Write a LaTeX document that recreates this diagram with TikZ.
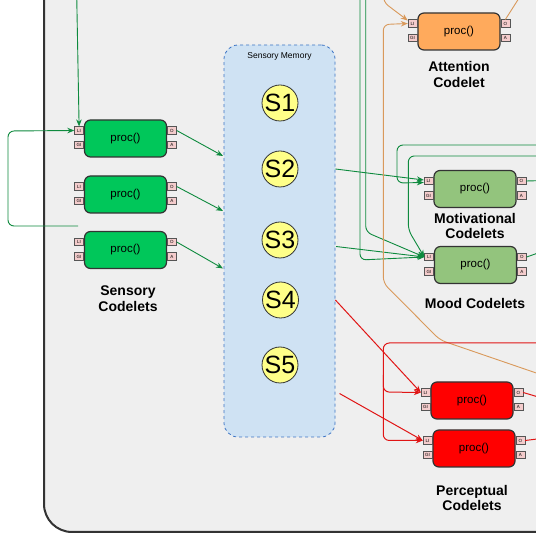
\documentclass[tikz,border=0pt]{standalone}
\usepackage{fontspec}
\setmainfont{Liberation Sans}
\usetikzlibrary{arrows.meta}

\definecolor{panelfill}{HTML}{EFEFEF}
\definecolor{panelline}{HTML}{333333}
\definecolor{sensgreen}{HTML}{00C75A}
\definecolor{linkgreen}{HTML}{0E8A3E}
\definecolor{attorange}{HTML}{FFAA5C}
\definecolor{linkorange}{HTML}{D9995B}
\definecolor{motgreen}{HTML}{93C47D}
\definecolor{percred}{HTML}{FF0000}
\definecolor{linkred}{HTML}{E01515}
\definecolor{memfill}{HTML}{CFE2F3}
\definecolor{memline}{HTML}{3D74C4}
\definecolor{slotfill}{HTML}{FFFF88}
\definecolor{portfill}{HTML}{F4CCCC}
\definecolor{portline}{HTML}{555555}

% a codelet: rounded body with LI/GI ports on the left and O/A ports on the right
\newcommand\codelet[4]{%
  \node[cbox, fill=#4] (#1) at (#2,#3) {proc()};
  \node[port, anchor=east] (#1-li) at ([yshift=8pt]#1.west) {LI};
  \node[port, anchor=east] (#1-gi) at ([yshift=-6.5pt]#1.west) {GI};
  \node[port, anchor=west] (#1-o) at ([yshift=8pt]#1.east) {O};
  \node[port, anchor=west] (#1-a) at ([yshift=-6.5pt]#1.east) {A};
}

\begin{document}
\begin{tikzpicture}[x=1pt, y=-1pt,
  cbox/.style={draw=panelline, line width=1.2pt, rounded corners=6pt,
    minimum width=82pt, minimum height=37pt, inner sep=0pt,
    font=\fontsize{11.5}{12}\selectfont},
  port/.style={draw=portline, line width=0.6pt, fill=portfill,
    minimum width=9pt, minimum height=7.5pt, inner sep=0pt,
    font=\fontsize{4.5}{5}\selectfont},
  slot/.style={circle, draw=panelline, line width=0.8pt, fill=slotfill,
    minimum size=36pt, inner sep=0pt, font=\fontsize{25}{26}\selectfont},
  lbl/.style={align=center, font=\fontsize{14}{15.5}\selectfont\bfseries},
  tip/.style={-{Stealth[length=7pt,width=5.5pt]}},
  glink/.style={tip, draw=linkgreen, line width=0.9pt, rounded corners=6pt},
  olink/.style={tip, draw=linkorange, line width=0.9pt, rounded corners=6pt},
  rlink/.style={tip, draw=linkred, line width=1pt, rounded corners=6pt},
  gwire/.style={draw=linkgreen, line width=0.9pt},
  owire/.style={draw=linkorange, line width=0.9pt},
  rwire/.style={draw=linkred, line width=1pt},
]
\useasboundingbox (0,0) rectangle (536,534);
\clip (0,0) rectangle (536,534);
\fill[white] (0,0) rectangle (536,534);

% outer panel
\draw[draw=panelline, fill=panelfill, line width=2pt, rounded corners=28pt]
  (44,-40) rectangle (600,532);

% sensory memory with its slots
\node[draw=memline, dashed, line width=0.8pt, fill=memfill, rounded corners=14pt,
  minimum width=111pt, minimum height=392pt] (mem) at (279.5,241) {};
\node[font=\fontsize{8.5}{9}\selectfont, below=4pt] (memtitle) at (mem.north) {Sensory Memory};
\node[slot] (s1) at (280,103) {S1};
\node[slot] (s2) at (280,169) {S2};
\node[slot] (s3) at (280,240) {S3};
\node[slot] (s4) at (280.5,300) {S4};
\node[slot] (s5) at (280,365) {S5};

% codelets
\codelet{sc1}{125.5}{138.5}{sensgreen}
\codelet{sc2}{125.5}{194.5}{sensgreen}
\codelet{sc3}{125.5}{250}{sensgreen}
\codelet{att}{459}{31.5}{attorange}
\codelet{mot}{475}{189}{motgreen}
\codelet{mood}{475.5}{265}{motgreen}
\codelet{pc1}{472}{400.5}{percred}
\codelet{pc2}{474}{448.5}{percred}

% group labels
\node[lbl] (sclbl) at (128,298.5) {Sensory\\Codelets};
\node[lbl] (attlbl) at (459,74.5) {Attention\\Codelet};
\node[lbl] (motlbl) at (475,226) {Motivational\\Codelets};
\node[lbl] (moodlbl) at (475,303) {Mood Codelets};
\node[lbl] (pclbl) at (472,498) {Perceptual\\Codelets};

% free ends of connectors
\coordinate (m1) at (223,156);
\coordinate (m2) at (223,211);
\coordinate (m3) at (223,268.5);
\coordinate (s3out) at (336,246.5);
\coordinate (s5out) at (339.5,393.5);
\coordinate (topA) at (76.7,-5);
\coordinate (loopA) at (78,226);
\coordinate (topB) at (360,-5);
\coordinate (topC) at (365.7,-5);
\coordinate (topD) at (383.3,-5);
\coordinate (rgtA) at (545,145);
\coordinate (rgtB) at (545,156);
\coordinate (rgtO) at (545,376);
\coordinate (rgtR) at (545,343);
\coordinate (redsplit) at (383.3,375);
\coordinate (attout) at (521,-5);
\coordinate (motout) at (545,180.5);
\coordinate (moodout) at (545,250.5);
\coordinate (pc1out) at (545,399);
\coordinate (pc2out) at (545,438);

% sensory codelets feed sensory memory
\draw[glink] (sc1-o.east) -- (m1);
\draw[glink] (sc2-o.east) -- (m2);
\draw[glink] (sc3-o.east) -- (m3);
\draw[glink] (topA) -- (sc1-li.north);
\draw[glink] (loopA) -- (8,226) -- (8,131) -- (sc1-li.west);

% memory to motivational / mood codelets
\draw[glink] (mem.east |- s2) -- ([yshift=1pt]mot-li.west);
\draw[glink] (rgtA) -- (397,145) -- (397,183) -- ([yshift=-1.5pt]mot-li.west);
\draw[glink] (s3out) -- (mood-li.west);
\draw[glink] (topB) -- (360,260) -- (mood-li.west);
\draw[glink] (topC) -- (365.7,232) -- (mood-li.west);
\draw[glink] (rgtB) -- (408.3,156) -- (408.3,230) -- (mood-li.west);
\draw[gwire] (mot-o.east) -- (motout);
\draw[gwire] (mood-o.east) -- (moodout);

% attention links
\draw[olink] (topD) -- (383.3,2) -- ([yshift=3pt]att-li.west);
\draw[olink] (rgtO) -- (440,340) -- (383.3,283) -- (383.3,24.5) -- (att-li.west);
\draw[owire] (att-o.north) -- (attout);

% perceptual links
\draw[rlink] (mem.east |- s4) -- (pc1-li.west);
\draw[rlink] (s5out) -- (pc2-li.west);
\draw[rlink] (rgtR) -- (383.3,343) -- (383.3,440.5) -- (pc2-li.west);
\draw[rlink] (redsplit) -- (383.3,392) -- (pc1-li.west);
\draw[rwire] (pc1-o.east) -- (pc1out);
\draw[rwire] (pc2-o.east) -- (pc2out);
\end{tikzpicture}
\end{document}
